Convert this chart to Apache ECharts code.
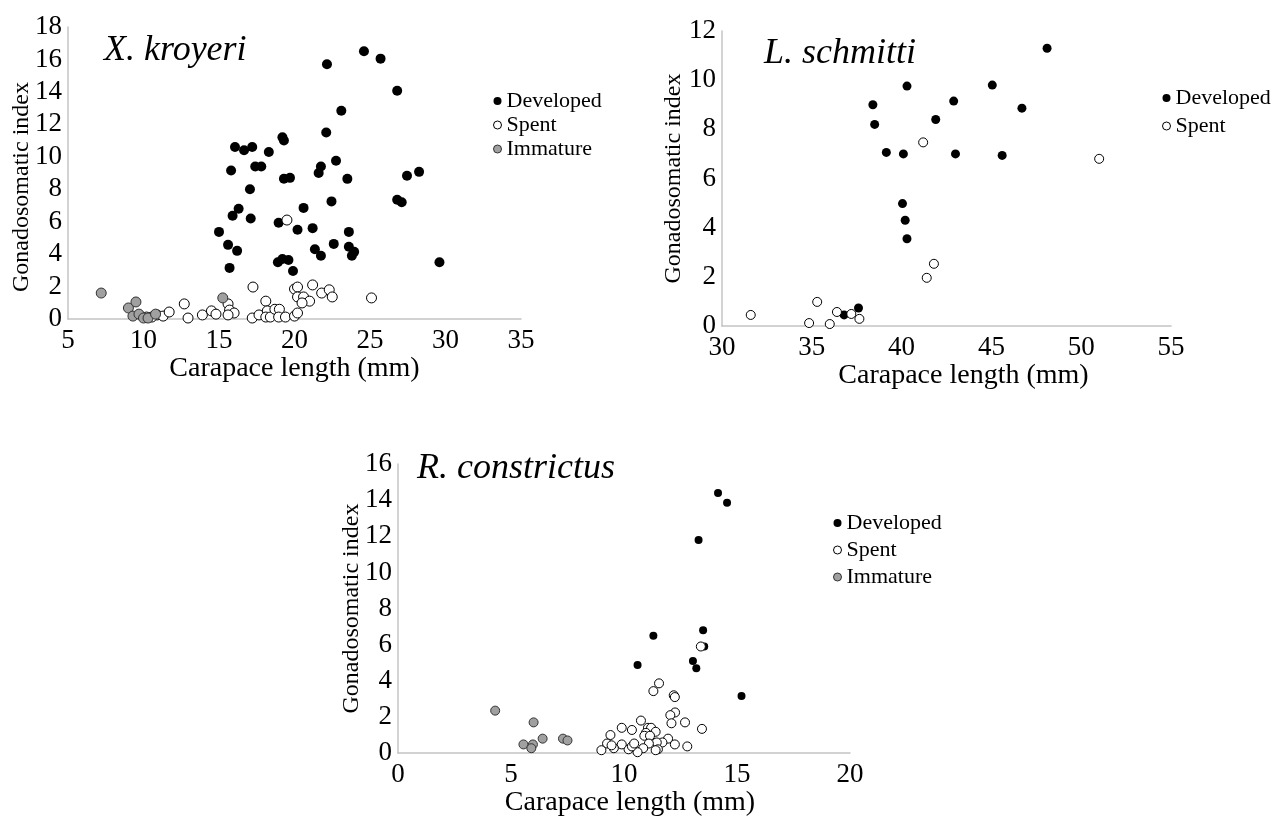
<!DOCTYPE html>
<html>
<head>
<meta charset="utf-8">
<script src="https://cdn.jsdelivr.net/npm/echarts@6/dist/echarts.min.js"></script>
<style>
  html, body { margin: 0; padding: 0; background: #fff; }
  #chart { width: 1274px; height: 818px; }
</style>
</head>
<body>
<div id="chart"></div>
<script>
// X. kroyeri  [carapace length mm, GSI]
const kroyeriDeveloped = [
  [22.15, 15.7], [24.6, 16.5], [25.7, 16.05], [26.8, 14.07], [23.1, 12.84], [22.1, 11.5],
  [16.06, 10.6], [16.66, 10.4], [17.2, 10.6], [18.3, 10.3], [19.2, 11.2], [19.3, 11.0],
  [15.8, 9.15], [17.4, 9.4], [17.8, 9.4], [19.3, 8.65], [19.7, 8.7], [17.05, 8.0],
  [21.6, 9.0], [21.75, 9.4], [22.75, 9.75], [23.5, 8.64], [27.45, 8.83], [28.25, 9.07],
  [22.45, 7.25], [26.8, 7.35], [27.1, 7.2], [16.3, 6.8], [15.9, 6.36], [17.1, 6.2],
  [15.0, 5.37], [15.6, 4.57], [16.2, 4.2], [15.7, 3.15], [20.6, 6.85], [18.95, 5.93],
  [20.2, 5.5], [21.2, 5.6], [21.35, 4.3], [21.75, 3.9], [18.9, 3.5], [19.2, 3.7],
  [19.6, 3.64], [19.9, 2.96], [22.6, 4.63], [23.6, 5.37], [23.6, 4.45], [23.95, 4.14],
  [23.8, 3.9], [29.6, 3.5]
];
const kroyeriSpent = [
  [19.5, 6.1], [17.25, 1.97], [20.0, 1.85], [20.2, 1.97], [21.2, 2.1], [21.8, 1.6],
  [22.3, 1.8], [22.5, 1.36], [20.2, 1.36], [20.6, 1.36], [21.0, 1.1], [20.5, 0.99],
  [25.1, 1.3], [12.7, 0.93], [12.95, 0.06], [13.9, 0.25], [14.5, 0.5], [14.8, 0.3],
  [15.6, 0.93], [15.7, 0.55], [16.0, 0.37], [15.6, 0.25], [17.2, 0.06], [17.65, 0.25],
  [18.1, 1.1], [18.2, 0.5], [18.1, 0.12], [18.4, 0.12], [18.7, 0.6], [19.0, 0.6],
  [18.95, 0.12], [19.4, 0.12], [20.0, 0.18], [20.2, 0.37], [10.9, 0.25], [11.3, 0.18],
  [11.7, 0.43], [10.55, 0.12], [10.2, 0.12]
];
const kroyeriImmature = [
  [7.2, 1.6], [9.0, 0.68], [9.5, 1.05], [9.3, 0.18], [9.7, 0.3], [10.0, 0.06],
  [10.3, 0.06], [10.8, 0.3], [15.25, 1.3]
];

// L. schmitti
const schmittiDeveloped = [
  [38.4, 9.0], [38.5, 8.2], [40.3, 9.76], [41.9, 8.4], [42.9, 9.15], [39.15, 7.06],
  [40.1, 7.0], [43.0, 7.0], [48.1, 11.3], [45.05, 9.8], [46.7, 8.86], [45.6, 6.94],
  [40.05, 4.98], [40.2, 4.3], [40.3, 3.55], [36.8, 0.45], [37.6, 0.73]
];
const schmittiSpent = [
  [41.2, 7.47], [51.0, 6.8], [41.8, 2.53], [41.4, 1.96], [31.6, 0.45], [34.85, 0.12],
  [35.3, 0.98], [36.0, 0.08], [36.4, 0.57], [37.2, 0.49], [37.65, 0.29]
];

// R. constrictus
const constrictusDeveloped = [
  [14.16, 14.4], [14.56, 13.85], [13.3, 11.8], [13.5, 6.8], [11.3, 6.5], [10.6, 4.87],
  [13.05, 5.1], [13.2, 4.7], [15.2, 3.16], [13.55, 5.9]
];
const constrictusSpent = [
  [13.4, 5.9], [11.55, 3.86], [11.3, 3.43], [12.2, 3.2], [12.25, 3.1], [12.26, 2.25],
  [12.05, 2.1], [12.1, 1.65], [12.7, 1.7], [13.45, 1.34], [10.75, 1.8], [9.9, 1.4],
  [10.35, 1.28], [11.06, 1.4], [11.2, 1.4], [10.97, 1.12], [11.4, 1.18], [10.9, 0.96],
  [11.15, 0.96], [9.4, 1.0], [11.95, 0.8], [11.7, 0.59], [11.45, 0.59], [11.5, 0.21],
  [11.4, 0.16], [11.1, 0.53], [12.25, 0.48], [12.8, 0.37], [10.85, 0.27], [10.6, 0.05],
  [10.2, 0.21], [10.35, 0.37], [9.9, 0.48], [9.55, 0.27], [9.25, 0.53], [9.0, 0.16],
  [9.45, 0.43], [10.45, 0.53]
];
const constrictusImmature = [
  [4.3, 2.35], [6.0, 1.7], [5.55, 0.48], [5.97, 0.48], [5.9, 0.27], [6.4, 0.8],
  [7.3, 0.8], [7.5, 0.7]
];

const titles = ['X. kroyeri', 'L. schmitti', 'R. constrictus'];
const xName = 'Carapace length (mm)';
const yName = 'Gonadosomatic index';

const serif = "'Liberation Serif', 'Times New Roman', serif";
const devStyle = { color: '#000', opacity: 1 };
const spentStyle = { color: '#fff', borderColor: '#000', borderWidth: 1, opacity: 1 };
const immStyle = { color: '#a0a0a0', borderColor: '#333', borderWidth: 1, opacity: 1 };

function xAxis(grid, min, max, gap, pad) {
  return {
    gridIndex: grid, type: 'value', min: min, max: max, interval: 5,
    name: xName, nameLocation: 'middle', nameGap: gap,
    nameTextStyle: { fontFamily: serif, fontSize: 28, color: '#000', padding: pad || 0 },
    axisLine: { lineStyle: { color: '#c4c4c4', width: 1.5 } },
    axisTick: { show: false }, splitLine: { show: false },
    axisLabel: { fontFamily: serif, fontSize: 27, color: '#000', margin: 8 }
  };
}
function yAxis(grid, max, gap, pad) {
  return {
    gridIndex: grid, type: 'value', min: 0, max: max, interval: 2,
    name: yName, nameLocation: 'middle', nameGap: gap, nameMoveOverlap: false,
    nameTextStyle: { fontFamily: serif, fontSize: 24, color: '#000', padding: pad || 0 },
    axisLine: { show: true, lineStyle: { color: '#c4c4c4', width: 1.5 } },
    axisTick: { show: false }, splitLine: { show: false },
    axisLabel: { fontFamily: serif, fontSize: 27, color: '#000', margin: 6 }
  };
}
function scatter(name, data, idx, size, style) {
  return { name: name, type: 'scatter', xAxisIndex: idx, yAxisIndex: idx,
    data: data, symbolSize: size, itemStyle: style, z: 3 };
}
function legend(left, top, gap, names) {
  const styles = { Developed: devStyle, Spent: spentStyle, Immature: immStyle };
  return {
    orient: 'vertical', left: left, top: top, itemGap: gap, itemWidth: 8, itemHeight: 8,
    padding: 0, selectedMode: false,
    textStyle: { fontFamily: serif, fontSize: 22, color: '#000' },
    data: names.map(n => ({ name: n, icon: 'circle', itemStyle: styles[n] }))
  };
}

const chart = echarts.init(document.getElementById('chart'));
chart.setOption({
  backgroundColor: '#fff',
  animation: false,
  title: [
    { text: titles[0], left: 104, top: 33 },
    { text: titles[1], left: 764, top: 36 },
    { text: titles[2], left: 417, top: 451 }
  ].map(t => Object.assign(t, { padding: 0,
    textStyle: { fontFamily: serif, fontStyle: 'italic', fontWeight: 'normal', fontSize: 36, color: '#000' } })),
  legend: [
    legend(493, 90, 2, ['Developed', 'Spent', 'Immature']),
    legend(1162, 87, 6, ['Developed', 'Spent']),
    legend(833, 512, 5, ['Developed', 'Spent', 'Immature'])
  ],
  grid: [
    { left: 68, top: 27, width: 453, height: 292 },
    { left: 722, top: 31, width: 449, height: 295 },
    { left: 398, top: 464, width: 452, height: 299 }
  ],
  xAxis: [
    xAxis(0, 5, 35, 35),
    xAxis(1, 30, 55, 28, [0, 0, 0, 34]),
    xAxis(2, 0, 20, 29, [0, 0, 0, 12])
  ],
  yAxis: [
    yAxis(0, 18, 34, [0, 28, 0, 0]),
    yAxis(1, 12, 36),
    yAxis(2, 16, 34)
  ],
  series: [
    scatter('Developed', kroyeriDeveloped, 0, 10, devStyle),
    scatter('Spent', kroyeriSpent, 0, 10, spentStyle),
    scatter('Immature', kroyeriImmature, 0, 10, immStyle),
    scatter('Developed', schmittiDeveloped, 1, 9, devStyle),
    scatter('Spent', schmittiSpent, 1, 9, spentStyle),
    scatter('Developed', constrictusDeveloped, 2, 8, devStyle),
    scatter('Spent', constrictusSpent, 2, 9, spentStyle),
    scatter('Immature', constrictusImmature, 2, 9, immStyle)
  ]
});
</script>
</body>
</html>
